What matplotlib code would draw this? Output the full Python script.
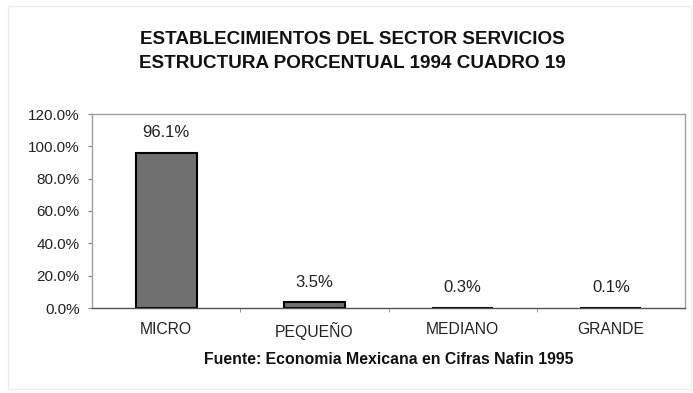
import matplotlib
matplotlib.use("Agg")
import numpy as np
from matplotlib import pyplot as plt
from matplotlib.patches import Rectangle
from matplotlib.ticker import FixedLocator, FuncFormatter

categories = ["MICRO", "PEQUEÑO", "MEDIANO", "GRANDE"]
values = [96.1, 3.5, 0.3, 0.1]
value_labels = ["96.1%", "3.5%", "0.3%", "0.1%"]
y_ticks = [0, 20, 40, 60, 80, 100, 120]

title_lines = [
    "ESTABLECIMIENTOS DEL SECTOR SERVICIOS",
    "ESTRUCTURA PORCENTUAL 1994 CUADRO 19",
]
source = "Fuente: Economia Mexicana en Cifras Nafin 1995"

plt.rcParams["font.family"] = ["Liberation Sans", "DejaVu Sans"]

fig = plt.figure(figsize=(6.93, 3.93), dpi=100)
ax = fig.add_axes([92 / 693, 1 - 308 / 393, (685 - 92) / 693, (308 - 114) / 393])

x = np.arange(len(categories))
ax.bar(x, values, width=0.41, color="#707070", edgecolor="black", linewidth=1.5)

for xi, v, lab in zip(x, values, value_labels):
    ax.annotate(lab, (xi, v), xytext=(0, 14.5), textcoords="offset points",
                ha="center", va="center", fontsize=12, color="#222222")

ax.set_xlim(-0.5, len(categories) - 0.5)
ax.set_ylim(0, 120)
ax.set_yticks(y_ticks)
ax.yaxis.set_major_formatter(FuncFormatter(lambda v, p: f"{v:.1f}%"))
ax.tick_params(axis="y", labelsize=11, length=3, color="#888888", pad=6,
               labelcolor="#222222")
ax.set_xticks(x)
ax.set_xticklabels(categories)
ax.tick_params(axis="x", labelsize=11.3, length=0, pad=10, labelcolor="#222222")
ax.xaxis.set_minor_locator(FixedLocator(np.arange(0.5, len(categories) - 0.5, 1)))
ax.tick_params(axis="x", which="minor", length=3, color="#888888")

for side in ["top", "right", "left"]:
    ax.spines[side].set_color("#a0a0a0")
    ax.spines[side].set_linewidth(1.0)
ax.spines["left"].set_linestyle((0, (2, 1)))
ax.spines["bottom"].set_color("#555555")
ax.spines["bottom"].set_linewidth(1.0)

fig.text(352 / 693, 1 - 40 / 393, title_lines[0], ha="center", va="center",
         fontsize=13.6, fontweight="bold", color="#111111")
fig.text(352 / 693, 1 - 63 / 393, title_lines[1], ha="center", va="center",
         fontsize=13.6, fontweight="bold", color="#111111")
fig.text(389 / 693, 1 - 360 / 393, source, ha="center", va="center",
         fontsize=11.4, fontweight="bold", color="#111111")

# faint outer frame of the chart area
fig.patches.append(Rectangle((8 / 693, 0.01), 0.985, 0.975, transform=fig.transFigure,
                             fill=False, edgecolor="#ececec", linewidth=1.0))

fig.savefig("out.png", dpi=100)
